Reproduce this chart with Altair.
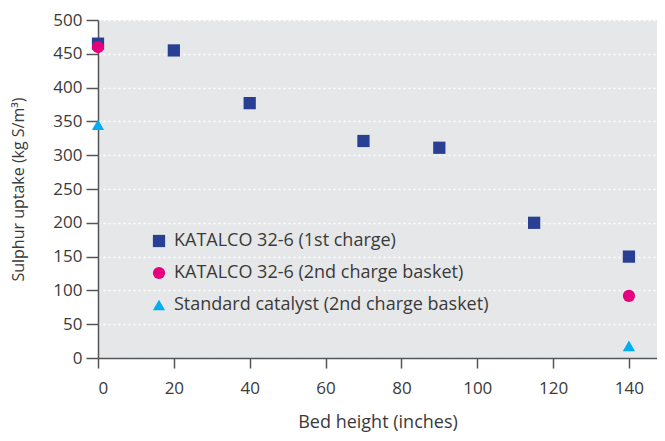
import altair as alt
import pandas as pd

series_names = [
    "KATALCO 32-6 (1st charge)",
    "KATALCO 32-6 (2nd charge basket)",
    "Standard catalyst (2nd charge basket)",
]
first_x = [0, 20, 40, 70, 90, 115, 140]
first_y = [465, 455, 377, 321, 311, 200, 150]
second_x = [0, 140]
second_y = [460, 92]
std_x = [0, 140]
std_y = [345, 18]

colors = ["#283f93", "#e6007e", "#00aeef"]
shapes = ["square", "circle", "triangle-up"]
x_ticks = [0, 20, 40, 60, 80, 100, 120, 140]
y_ticks = list(range(0, 501, 50))

rows = []
for name, xs, ys in zip(series_names, [first_x, second_x, std_x], [first_y, second_y, std_y]):
    for xv, yv in zip(xs, ys):
        rows.append({"series": name, "bed": xv, "uptake": yv})
df = pd.DataFrame(rows)

FONT = "Open Sans"

chart = alt.Chart(df).mark_point(filled=True, opacity=1, size=150).encode(
    x=alt.X("bed:Q", scale=alt.Scale(domain=[0, 147.4], nice=False),
            axis=alt.Axis(values=x_ticks, grid=False, title="Bed height (inches)",
                          tickSize=10, labelPadding=12, titlePadding=17,
                          titleFontSize=18)),
    y=alt.Y("uptake:Q", scale=alt.Scale(domain=[0, 500], nice=False),
            axis=alt.Axis(values=y_ticks, grid=True, title="Sulphur uptake (kg S/m³)",
                          tickSize=12, labelPadding=4, titlePadding=26,
                          titleFontSize=16)),
    color=alt.Color("series:N", scale=alt.Scale(domain=series_names, range=colors),
                    legend=alt.Legend(title=None, orient="none", legendX=52, legendY=212,
                                      labelFontSize=18, labelColor="#3a3a3a", labelFont=FONT,
                                      labelLimit=0,
                                      symbolSize=150, rowPadding=14, labelOffset=6,
                                      symbolStrokeWidth=0, symbolOpacity=1)),
    shape=alt.Shape("series:N", scale=alt.Scale(domain=series_names, range=shapes)),
).properties(
    width=559, height=338,
    autosize=alt.AutoSizeParams(type="none"),
    padding={"left": 90, "top": 12, "right": 0, "bottom": 75},
).configure_view(
    fill="#e6e7e8", stroke=None,
).configure_axis(
    labelFont=FONT, titleFont=FONT, labelFontSize=17,
    labelColor="#3a3a3a", titleColor="#3a3a3a", titleFontWeight="normal",
    domainColor="#555555", domainWidth=1.5, tickColor="#555555", tickWidth=1.5,
    gridColor="#ffffff", gridDash=[2, 3], gridWidth=1.5,
)

chart.save("out.html", embed_options={"renderer": "svg", "actions": False})
